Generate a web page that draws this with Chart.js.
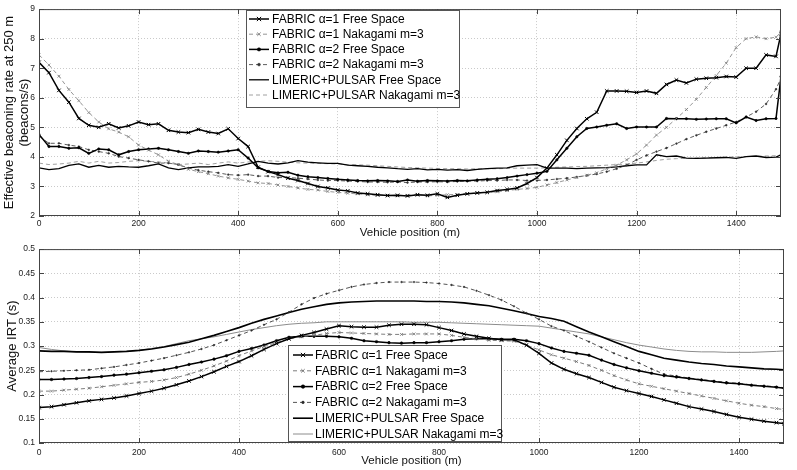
<!DOCTYPE html>
<html>
<head>
<meta charset="utf-8">
<script src="https://cdn.jsdelivr.net/npm/chart.js@4.4.1/dist/chart.umd.min.js"></script>
<style>
  body { margin: 0; background: #fff; }
  .wrap { position: relative; width: 797px; height: 470px; }
  #rate-chart { position: absolute; left: 0; top: 0; }
  #irt-chart { position: absolute; left: 0; top: 240px; }
</style>
</head>
<body>
<div class="wrap">
  <canvas id="rate-chart" width="797" height="240"></canvas>
  <canvas id="irt-chart" width="797" height="230"></canvas>
</div>
<script>
// legend names
const seriesNames = [
  'FABRIC \u03b1=1 Free Space',
  'FABRIC \u03b1=1 Nakagami m=3',
  'FABRIC \u03b1=2 Free Space',
  'FABRIC \u03b1=2 Nakagami m=3',
  'LIMERIC+PULSAR Free Space',
  'LIMERIC+PULSAR Nakagami m=3',
];

// top plot: effective beaconing rate (beacons/s) vs position (m)
const ratePositions = [
  0, 20, 40, 60, 80, 100, 120, 140, 160, 180,
  200, 220, 240, 260, 280, 300, 320, 340, 360, 380,
  400, 420, 440, 460, 480, 500, 520, 540, 560, 580,
  600, 620, 640, 660, 680, 700, 720, 740, 760, 780,
  800, 820, 840, 860, 880, 900, 920, 940, 960, 980,
  1000, 1020, 1040, 1060, 1080, 1100, 1120, 1140, 1160, 1180,
  1200, 1220, 1240, 1260, 1280, 1300, 1320, 1340, 1360, 1380,
  1400, 1420, 1440, 1460, 1480, 1490,
];
const rateA1Free = [
  7.2, 6.85, 6.25, 5.85, 5.3, 5.07, 5.0, 5.12, 4.98, 5.05,
  5.18, 5.09, 5.12, 4.9, 4.84, 4.82, 4.93, 4.84, 4.79, 4.95,
  4.62, 4.35, 3.65, 3.5, 3.4, 3.28, 3.2, 3.1, 3.0, 2.95,
  2.88, 2.85, 2.78, 2.75, 2.72, 2.69, 2.7, 2.68, 2.72, 2.7,
  2.75, 2.63, 2.7, 2.75, 2.78, 2.8, 2.86, 2.9, 2.95, 3.1,
  3.3, 3.62, 4.07, 4.56, 4.96, 5.29, 5.51, 6.23, 6.23, 6.22,
  6.18, 6.23, 6.15, 6.45, 6.6, 6.5, 6.63, 6.66, 6.68, 6.72,
  6.7, 7.0, 7.0, 7.45, 7.4, 8.17,
];
const rateA1Naka = [
  7.45, 7.11, 6.73, 6.28, 5.9, 5.5, 5.18, 4.95, 4.84, 4.68,
  4.4, 4.23, 4.07, 3.85, 3.74, 3.58, 3.5, 3.43, 3.35, 3.29,
  3.24, 3.18, 3.12, 3.1, 3.05, 3.0, 2.95, 2.9, 2.88, 2.83,
  2.8, 2.77, 2.75, 2.72, 2.7, 2.7, 2.68, 2.7, 2.72, 2.68,
  2.7, 2.72, 2.73, 2.75, 2.78, 2.8, 2.82, 2.86, 2.9, 2.93,
  2.97, 3.05, 3.13, 3.22, 3.3, 3.38, 3.46, 3.6, 3.72, 3.9,
  4.1, 4.4, 4.74, 5.0, 5.3, 5.6, 5.95, 6.35, 6.75, 7.17,
  7.7, 8.0, 8.06, 8.0, 8.05, 8.22,
];
const rateA2Free = [
  4.76, 4.35, 4.35, 4.29, 4.31, 4.12, 4.27, 4.24, 4.07, 4.18,
  4.24, 4.27, 4.29, 4.24, 4.18, 4.12, 4.2, 4.18, 4.16, 4.2,
  4.24, 3.96, 3.63, 3.51, 3.46, 3.48, 3.38, 3.33, 3.3, 3.27,
  3.24, 3.22, 3.2, 3.19, 3.2, 3.19, 3.17, 3.22, 3.18, 3.2,
  3.19, 3.18, 3.2, 3.19, 3.22, 3.24, 3.26, 3.3, 3.35, 3.4,
  3.45, 3.51, 3.9, 4.29, 4.68, 4.96, 5.01, 5.07, 5.12, 4.96,
  5.01, 5.01, 5.01, 5.3, 5.29, 5.29, 5.27, 5.28, 5.29, 5.29,
  5.15, 5.35, 5.23, 5.29, 5.3, 6.72,
];
const rateA2Naka = [
  4.7, 4.46, 4.46, 4.4, 4.35, 4.24, 4.18, 4.12, 4.01, 3.96,
  3.9, 3.85, 3.79, 3.79, 3.74, 3.62, 3.55, 3.5, 3.46, 3.4,
  3.38, 3.4, 3.35, 3.35, 3.3, 3.3, 3.28, 3.25, 3.22, 3.2,
  3.2, 3.18, 3.17, 3.15, 3.15, 3.14, 3.15, 3.13, 3.15, 3.15,
  3.16, 3.15, 3.17, 3.18, 3.18, 3.2, 3.2, 3.22, 3.22, 3.2,
  3.2, 3.22, 3.25, 3.28, 3.32, 3.37, 3.42, 3.5, 3.6, 3.72,
  3.9, 4.05, 4.18, 4.3, 4.45, 4.6, 4.73, 4.85, 4.96, 5.07,
  5.18, 5.35, 5.53, 5.79, 6.29, 6.67,
];
const rateLimFree = [
  3.63, 3.57, 3.6, 3.71, 3.76, 3.65, 3.71, 3.65, 3.68, 3.66,
  3.65, 3.7, 3.76, 3.63, 3.57, 3.63, 3.66, 3.66, 3.68, 3.74,
  3.68, 3.76, 3.85, 3.79, 3.76, 3.8, 3.87, 3.82, 3.8, 3.78,
  3.78, 3.72, 3.7, 3.68, 3.65, 3.63, 3.6, 3.58, 3.6, 3.56,
  3.58, 3.55, 3.57, 3.54, 3.58, 3.6, 3.62, 3.63, 3.7, 3.72,
  3.74, 3.62, 3.62, 3.62, 3.6, 3.62, 3.63, 3.64, 3.66, 3.7,
  3.73, 3.73, 4.07, 4.01, 4.03, 3.96, 3.95, 3.96, 3.97, 3.98,
  3.95, 4.01, 4.03, 3.98, 3.99, 4.07,
];
const rateLimNaka = [
  3.79, 3.74, 3.76, 3.79, 3.85, 3.79, 3.85, 3.79, 3.81, 3.85,
  3.87, 3.85, 3.83, 3.79, 3.74, 3.76, 3.79, 3.74, 3.79, 3.83,
  3.79, 3.83, 3.85, 3.87, 3.85, 3.82, 3.8, 3.79, 3.78, 3.77,
  3.76, 3.74, 3.73, 3.72, 3.7, 3.68, 3.66, 3.64, 3.63, 3.62,
  3.61, 3.6, 3.6, 3.59, 3.6, 3.6, 3.6, 3.61, 3.62, 3.62,
  3.62, 3.63, 3.65, 3.66, 3.67, 3.68, 3.7, 3.72, 3.74, 3.76,
  3.79, 3.83, 3.88, 3.92, 3.94, 3.95, 3.96, 3.97, 3.98, 3.99,
  4.0, 4.01, 4.02, 4.03, 4.04, 4.06,
];

// bottom plot: average IRT (s) vs position (m)
const irtPositions = [
  0, 25, 50, 75, 100, 125, 150, 175, 200, 225,
  250, 275, 300, 325, 350, 375, 400, 425, 450, 475,
  500, 525, 550, 575, 600, 625, 650, 675, 700, 725,
  750, 775, 800, 825, 850, 875, 900, 925, 950, 975,
  1000, 1025, 1050, 1075, 1100, 1125, 1150, 1175, 1200, 1225,
  1250, 1275, 1300, 1325, 1350, 1375, 1400, 1425, 1450, 1475,
  1490,
];
const irtA1Free = [
  0.173, 0.175, 0.179, 0.183, 0.187, 0.19, 0.193, 0.197, 0.202, 0.207,
  0.213, 0.22, 0.228, 0.237, 0.247, 0.258, 0.268, 0.28, 0.293, 0.305,
  0.315, 0.322, 0.328, 0.335, 0.342, 0.34, 0.339, 0.339, 0.343, 0.345,
  0.345, 0.344, 0.338, 0.332, 0.325, 0.32, 0.316, 0.313, 0.313, 0.302,
  0.285, 0.265, 0.252, 0.243, 0.235, 0.225, 0.215, 0.208, 0.202, 0.196,
  0.189, 0.182, 0.175, 0.17, 0.165, 0.159, 0.153, 0.149, 0.145, 0.142,
  0.14,
];
const irtA1Naka = [
  0.207, 0.207, 0.209, 0.211, 0.213, 0.216, 0.219, 0.222, 0.225, 0.227,
  0.23, 0.235, 0.242, 0.25, 0.259, 0.269, 0.28, 0.29, 0.299, 0.307,
  0.315, 0.319, 0.322, 0.326, 0.328, 0.327, 0.326, 0.325, 0.324, 0.324,
  0.325, 0.325, 0.325, 0.322, 0.318, 0.315, 0.312, 0.311, 0.31, 0.302,
  0.292, 0.282, 0.275, 0.268, 0.26, 0.25, 0.239, 0.23, 0.222, 0.217,
  0.212, 0.207, 0.202, 0.197, 0.192, 0.187, 0.182, 0.178, 0.175, 0.171,
  0.169,
];
const irtA2Free = [
  0.231, 0.231, 0.232, 0.233, 0.235, 0.237, 0.24, 0.242, 0.245, 0.248,
  0.251, 0.256, 0.262, 0.267, 0.273, 0.28, 0.289, 0.295, 0.302, 0.311,
  0.318, 0.32, 0.32, 0.32, 0.319, 0.316, 0.311, 0.309, 0.307, 0.306,
  0.307, 0.307, 0.309, 0.311, 0.314, 0.315, 0.315, 0.314, 0.314, 0.311,
  0.305, 0.296, 0.289, 0.285, 0.281, 0.271, 0.262, 0.255, 0.249, 0.244,
  0.239, 0.236, 0.233, 0.23, 0.227, 0.224, 0.222, 0.219, 0.217, 0.215,
  0.213,
];
const irtA2Naka = [
  0.247, 0.248, 0.249, 0.25, 0.251, 0.254, 0.257, 0.261, 0.265, 0.27,
  0.275, 0.281, 0.287, 0.294, 0.302, 0.312, 0.322, 0.332, 0.344, 0.355,
  0.37, 0.386, 0.399, 0.408, 0.415, 0.422, 0.427, 0.43, 0.432, 0.432,
  0.432, 0.431, 0.429, 0.426, 0.422, 0.414, 0.405, 0.395, 0.382, 0.368,
  0.355, 0.341, 0.332, 0.32, 0.309, 0.297, 0.285, 0.275, 0.265, 0.253,
  0.242, 0.238, 0.234, 0.231, 0.228, 0.225, 0.223, 0.22, 0.218, 0.216,
  0.214,
];
const irtLimFree = [
  0.29, 0.289, 0.289, 0.288, 0.288, 0.287, 0.288, 0.289, 0.291, 0.294,
  0.298, 0.303, 0.308, 0.315, 0.322, 0.33, 0.338, 0.347, 0.355, 0.362,
  0.369, 0.376, 0.381, 0.386, 0.389, 0.391, 0.392, 0.393, 0.393, 0.393,
  0.393, 0.392, 0.392, 0.391, 0.389, 0.386, 0.383, 0.378, 0.373, 0.367,
  0.361, 0.357, 0.351, 0.34, 0.329, 0.319, 0.309, 0.299, 0.289, 0.282,
  0.275, 0.271, 0.267, 0.264, 0.262, 0.259, 0.257, 0.255, 0.253, 0.252,
  0.251,
];
const irtLimNaka = [
  0.297, 0.293, 0.29, 0.288, 0.287, 0.287, 0.288, 0.289, 0.291, 0.295,
  0.299, 0.305, 0.311, 0.315, 0.319, 0.324, 0.329, 0.334, 0.338, 0.342,
  0.345, 0.347, 0.348, 0.35, 0.35, 0.35, 0.35, 0.35, 0.35, 0.35,
  0.349, 0.349, 0.349, 0.348, 0.347, 0.346, 0.345, 0.344, 0.343, 0.342,
  0.341, 0.337, 0.333, 0.329, 0.325, 0.319, 0.313, 0.307, 0.302, 0.298,
  0.294, 0.291, 0.289, 0.288, 0.288, 0.287, 0.287, 0.287, 0.288, 0.289,
  0.29,
];

const FONT = '"Liberation Sans", Arial, Helvetica, sans-serif';
Chart.defaults.font.family = FONT;
Chart.defaults.color = '#222';

const toPoints = (xs, ys) => ys.map((y, i) => ({ x: xs[i], y: y }));

// matlab-ish axes box with inward tick marks
const axesBox = {
  id: 'axesBox',
  afterDatasetsDraw(chart) {
    const { ctx, chartArea: a, scales } = chart;
    ctx.save();
    ctx.strokeStyle = '#444';
    ctx.lineWidth = 1;
    ctx.setLineDash([]);
    ctx.strokeRect(a.left + 0.5, a.top + 0.5, a.right - a.left - 1, a.bottom - a.top - 1);
    ctx.beginPath();
    scales.x.ticks.forEach((t) => {
      const px = Math.round(scales.x.getPixelForValue(t.value)) + 0.5;
      ctx.moveTo(px, a.bottom);
      ctx.lineTo(px, a.bottom - 5);
      ctx.moveTo(px, a.top);
      ctx.lineTo(px, a.top + 5);
    });
    scales.y.ticks.forEach((t) => {
      const py = Math.round(scales.y.getPixelForValue(t.value)) + 0.5;
      ctx.moveTo(a.left, py);
      ctx.lineTo(a.left + 5, py);
      ctx.moveTo(a.right, py);
      ctx.lineTo(a.right - 5, py);
    });
    ctx.stroke();
    ctx.restore();
  },
};

// boxed legend drawn inside the plot
const boxLegend = {
  id: 'boxLegend',
  afterDatasetsDraw(chart, args, opts) {
    const ctx = chart.ctx;
    ctx.save();
    ctx.fillStyle = '#fff';
    ctx.fillRect(opts.x, opts.y, opts.w, opts.h);
    ctx.strokeStyle = '#555';
    ctx.lineWidth = 1;
    ctx.strokeRect(opts.x + 0.5, opts.y + 0.5, opts.w, opts.h);
    chart.data.datasets.forEach((ds, i) => {
      const cy = opts.firstRow + i * opts.rowGap;
      ctx.beginPath();
      ctx.setLineDash(ds.borderDash || []);
      ctx.strokeStyle = ds.borderColor;
      ctx.lineWidth = ds.borderWidth;
      ctx.moveTo(opts.lineX1, cy);
      ctx.lineTo(opts.lineX2, cy);
      ctx.stroke();
      ctx.setLineDash([]);
      if (ds.pointRadius > 0) {
        ctx.fillStyle = ds.pointBackgroundColor;
        ctx.strokeStyle = ds.pointBorderColor;
        ctx.lineWidth = ds.pointBorderWidth;
        Chart.helpers.drawPoint(ctx, {
          pointStyle: ds.pointStyle,
          radius: ds.pointRadius + 0.5,
          borderWidth: ds.pointBorderWidth,
          rotation: 0,
        }, (opts.lineX1 + opts.lineX2) / 2, cy);
      }
      ctx.fillStyle = '#000';
      ctx.font = '12px ' + FONT;
      ctx.textBaseline = 'middle';
      ctx.textAlign = 'left';
      ctx.fillText(ds.label, opts.textX, cy + 0.5);
    });
    ctx.restore();
  },
};

function makeDataset(label, xs, ys, style) {
  return {
    label: label,
    data: toPoints(xs, ys),
    borderColor: style.color,
    borderWidth: style.width,
    borderDash: style.dash || [],
    pointStyle: style.marker || 'circle',
    pointRadius: style.radius || 0,
    pointBackgroundColor: style.color,
    pointBorderColor: style.color,
    pointBorderWidth: style.markerWidth || 1,
    tension: 0,
    fill: false,
  };
}

function makeOptions(cfg) {
  return {
    responsive: false,
    animation: false,
    events: [],
    layout: { padding: { top: cfg.padTop, right: cfg.padRight, left: 0, bottom: 0 } },
    scales: {
      x: {
        type: 'linear',
        min: 0,
        max: 1490,
        afterFit: (s) => { s.height = cfg.xHeight; },
        grid: { color: '#bdbdbd', lineWidth: 0.8, drawTicks: false },
        border: { display: false, dash: [1, 2] },
        ticks: {
          stepSize: 200,
          includeBounds: false,
          maxRotation: 0,
          padding: cfg.xTickPad,
          font: { size: 8.5 },
          color: '#222',
          callback: (v) => String(v),
        },
        title: {
          display: true,
          text: 'Vehicle position (m)',
          font: { size: 11.5, lineHeight: 1.2 },
          padding: { top: 0, bottom: cfg.xTitlePad },
          color: '#111',
        },
      },
      y: {
        min: cfg.yMin,
        max: cfg.yMax,
        afterFit: (s) => { s.width = 39; },
        grid: { color: '#bdbdbd', lineWidth: 0.8, drawTicks: false },
        border: { display: false, dash: [1, 2] },
        ticks: {
          stepSize: cfg.yStep,
          padding: 4,
          font: { size: 8.5 },
          color: '#222',
          callback: (v) => String(+v.toFixed(2)),
        },
        title: {
          display: true,
          text: cfg.yTitle,
          font: { size: 13, lineHeight: 1.15 },
          padding: { top: cfg.yTitlePad, bottom: 0 },
          color: '#111',
        },
      },
    },
    plugins: {
      legend: { display: false },
      tooltip: { enabled: false },
      boxLegend: cfg.legend,
    },
  };
}

new Chart(document.getElementById('rate-chart'), {
  type: 'line',
  data: {
    datasets: [
      makeDataset(seriesNames[0], ratePositions, rateA1Free, { color: '#000', width: 1.5, marker: 'crossRot', radius: 2.5, markerWidth: 1 }),
      makeDataset(seriesNames[1], ratePositions, rateA1Naka, { color: '#7a7a7a', width: 0.8, dash: [4, 3], marker: 'crossRot', radius: 2, markerWidth: 0.8 }),
      makeDataset(seriesNames[2], ratePositions, rateA2Free, { color: '#000', width: 1.5, marker: 'circle', radius: 1.2, markerWidth: 0.5 }),
      makeDataset(seriesNames[3], ratePositions, rateA2Naka, { color: '#333', width: 0.8, dash: [4, 3], marker: 'circle', radius: 0.9, markerWidth: 0.5 }),
      makeDataset(seriesNames[4], ratePositions, rateLimFree, { color: '#000', width: 1.3 }),
      makeDataset(seriesNames[5], ratePositions, rateLimNaka, { color: '#888', width: 0.8, dash: [4, 3] }),
    ],
  },
  options: makeOptions({
    padTop: 5, padRight: 16, xHeight: 24, xTickPad: 3, xTitlePad: 0,
    yMin: 2, yMax: 9, yStep: 1, yTitlePad: 1.5,
    yTitle: ['Effective beaconing rate at 250 m', '(beacons/s)'],
    legend: { x: 246, y: 10, w: 213, h: 97, firstRow: 19, rowGap: 15.2, lineX1: 249, lineX2: 269, textX: 272 },
  }),
  plugins: [axesBox, boxLegend],
});

new Chart(document.getElementById('irt-chart'), {
  type: 'line',
  data: {
    datasets: [
      makeDataset(seriesNames[0], irtPositions, irtA1Free, { color: '#000', width: 1.5, marker: 'crossRot', radius: 2.5, markerWidth: 1 }),
      makeDataset(seriesNames[1], irtPositions, irtA1Naka, { color: '#6e6e6e', width: 0.9, dash: [4, 3], marker: 'crossRot', radius: 2, markerWidth: 0.8 }),
      makeDataset(seriesNames[2], irtPositions, irtA2Free, { color: '#000', width: 1.5, marker: 'circle', radius: 1.3, markerWidth: 0.5 }),
      makeDataset(seriesNames[3], irtPositions, irtA2Naka, { color: '#2a2a2a', width: 0.8, dash: [4, 3], marker: 'circle', radius: 0.8, markerWidth: 0.5 }),
      makeDataset(seriesNames[4], irtPositions, irtLimFree, { color: '#000', width: 1.6 }),
      makeDataset(seriesNames[5], irtPositions, irtLimNaka, { color: '#8c8c8c', width: 1 }),
    ],
  },
  options: makeOptions({
    padTop: 3, padRight: 13, xHeight: 27, xTickPad: 4.5, xTitlePad: 2,
    yMin: 0.1, yMax: 0.5, yStep: 0.05, yTitlePad: 4.8,
    yTitle: 'Average IRT (s)',
    legend: { x: 288, y: 105, w: 213, h: 96, firstRow: 115, rowGap: 15.8, lineX1: 293, lineX2: 313, textX: 315 },
  }),
  plugins: [axesBox, boxLegend],
});
</script>
</body>
</html>
